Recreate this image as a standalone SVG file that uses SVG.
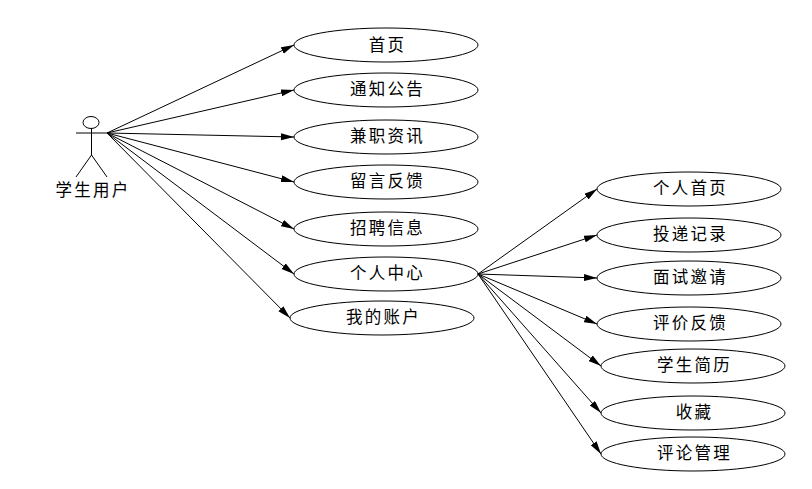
<svg xmlns="http://www.w3.org/2000/svg" width="812" height="489" viewBox="0 0 812 489">
<style>
.n ellipse{fill:#fff;stroke:#000;stroke-width:1}
text{font-family:"SimSun","Noto Sans CJK SC",sans-serif;font-size:16.500px;letter-spacing:2.300px;text-anchor:middle;fill:#000}
#connectors line{stroke:#000;stroke-width:1;marker-end:url(#a)}
#actor line,#actor ellipse{stroke:#000;stroke-width:1;fill:#fff}
</style>
<defs><marker id="a" markerUnits="userSpaceOnUse" markerWidth="14" markerHeight="8" refX="13" refY="3.500" orient="auto"><path d="M0 0L13 3.500L0 7Z" fill="#000"/></marker></defs>
<rect width="812" height="489" fill="#fff"/>
<g id="connectors">
<line x1="107" y1="133" x2="294" y2="45"/>
<line x1="107" y1="133" x2="294" y2="90"/>
<line x1="107" y1="133" x2="294" y2="137"/>
<line x1="107" y1="133" x2="294" y2="182"/>
<line x1="107" y1="133" x2="294" y2="229"/>
<line x1="107" y1="133" x2="294" y2="274"/>
<line x1="107" y1="133" x2="290" y2="318"/>
<line x1="478" y1="274" x2="597" y2="189"/>
<line x1="478" y1="274" x2="597" y2="235"/>
<line x1="478" y1="274" x2="597" y2="278"/>
<line x1="478" y1="274" x2="597" y2="324"/>
<line x1="478" y1="274" x2="601" y2="366"/>
<line x1="478" y1="274" x2="601" y2="413"/>
<line x1="478" y1="274" x2="601" y2="454"/>
</g>
<g id="actor">
<ellipse cx="91" cy="122.500" rx="8" ry="6"/>
<line x1="91.500" y1="128.500" x2="91.500" y2="155"/>
<line x1="76" y1="133" x2="107" y2="133"/>
<line x1="91.500" y1="155" x2="76" y2="177"/>
<line x1="91.500" y1="155" x2="107" y2="177"/>
<text x="93" y="196">学生用户</text>
</g>
<g id="n1" class="n"><ellipse cx="386" cy="45" rx="92" ry="17"/><text x="387.500" y="50.500">首页</text></g>
<g id="n2" class="n"><ellipse cx="386" cy="90" rx="92" ry="17"/><text x="387.500" y="94.500">通知公告</text></g>
<g id="n3" class="n"><ellipse cx="386" cy="137" rx="92" ry="17"/><text x="387.500" y="142">兼职资讯</text></g>
<g id="n4" class="n"><ellipse cx="386" cy="182" rx="92" ry="17"/><text x="387.500" y="187">留言反馈</text></g>
<g id="n5" class="n"><ellipse cx="386" cy="229" rx="92" ry="17"/><text x="387.500" y="234">招聘信息</text></g>
<g id="n6" class="n"><ellipse cx="386" cy="274" rx="92" ry="17"/><text x="387.500" y="278.500">个人中心</text></g>
<g id="n7" class="n"><ellipse cx="382" cy="318" rx="92" ry="17"/><text x="383.500" y="322.500">我的账户</text></g>
<g id="n8" class="n"><ellipse cx="689" cy="189" rx="92" ry="17"/><text x="690.500" y="194">个人首页</text></g>
<g id="n9" class="n"><ellipse cx="689" cy="235" rx="92" ry="17"/><text x="690.500" y="240">投递记录</text></g>
<g id="n10" class="n"><ellipse cx="689" cy="278" rx="92" ry="17"/><text x="690.500" y="283">面试邀请</text></g>
<g id="n11" class="n"><ellipse cx="689" cy="324" rx="92" ry="17"/><text x="690.500" y="329">评价反馈</text></g>
<g id="n12" class="n"><ellipse cx="693" cy="366" rx="92" ry="17"/><text x="694.500" y="371">学生简历</text></g>
<g id="n13" class="n"><ellipse cx="693" cy="413" rx="92" ry="17"/><text x="694.500" y="418">收藏</text></g>
<g id="n14" class="n"><ellipse cx="693" cy="454" rx="92" ry="17"/><text x="694.500" y="459">评论管理</text></g>
</svg>
